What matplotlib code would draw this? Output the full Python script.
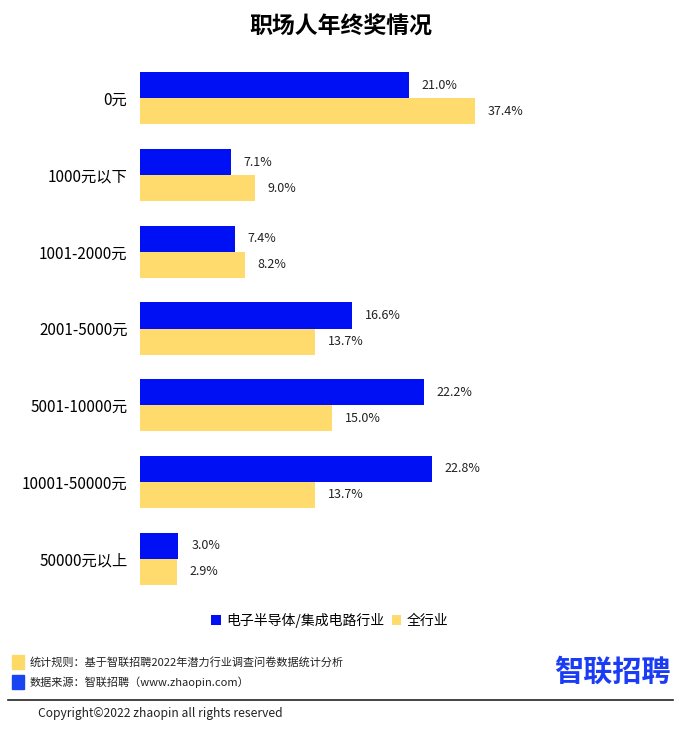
import matplotlib
matplotlib.use('Agg')
from matplotlib import pyplot as plt
from matplotlib.patches import Rectangle
import numpy as np

plt.rcParams['font.family'] = ['Noto Sans CJK SC', 'DejaVu Sans']

categories = ['0元', '1000元以下', '1001-2000元', '2001-5000元',
              '5001-10000元', '10001-50000元', '50000元以上']
semi_values = [21.0, 7.1, 7.4, 16.6, 22.2, 22.8, 3.0]
all_values = [37.4, 9.0, 8.2, 13.7, 15.0, 13.7, 2.9]
series_names = ['电子半导体/集成电路行业', '全行业']

BLUE = '#0010F5'
YELLOW = '#FFDB6E'
XMAX = 26.2


def main():
    fig = plt.figure(figsize=(6.81, 7.53), dpi=100)
    W, H = 681, 753
    ax = fig.add_axes([140 / W, 1 - 597 / H, (475 - 140) / W, (597 - 60) / H])

    y = np.arange(len(categories))
    h = 0.34
    ax.barh(y - h / 2, semi_values, height=h, color=BLUE, label=series_names[0])
    ax.barh(y + h / 2, all_values, height=h, color=YELLOW, label=series_names[1])
    ax.set_xlim(0, XMAX)
    ax.set_ylim(len(categories) - 0.5, -0.5)

    for i in range(len(categories)):
        for v, off in ((semi_values[i], -h / 2), (all_values[i], h / 2)):
            ax.text(min(v, XMAX) + 1.0, i + off, f'{v:.1f}%', va='center',
                    ha='left', fontsize=9, color='#222222', clip_on=False)

    ax.set_yticks(y)
    ax.set_yticklabels(categories, fontsize=11)
    ax.tick_params(axis='y', length=0, pad=9)
    ax.set_xticks([])
    for s in ax.spines.values():
        s.set_visible(False)

    fig.text(0.5, 1 - 27 / H, '职场人年终奖情况', ha='center', va='center',
             fontsize=16.5, fontweight='bold')

    fig.legend(loc='center', bbox_to_anchor=(330 / W, 1 - 620 / H), ncol=2,
               frameon=False, fontsize=10, handlelength=0.7, handleheight=0.7,
               handletextpad=0.4, columnspacing=0.5)

    # footer
    fig.patches.append(Rectangle((12 / W, 1 - 669 / H), 12 / W, 14 / H,
                                 transform=fig.transFigure, color='#FFD966'))
    fig.patches.append(Rectangle((12 / W, 1 - 689 / H), 12 / W, 14 / H,
                                 transform=fig.transFigure, color='#1A44F2'))
    fig.text(30 / W, 1 - 662 / H, '统计规则：基于智联招聘2022年潜力行业调查问卷数据统计分析',
             fontsize=8, va='center', color='#222222')
    fig.text(30 / W, 1 - 682 / H, '数据来源：智联招聘（www.zhaopin.com）',
             fontsize=8, va='center', color='#222222')
    fig.text(612 / W, 1 - 672 / H, '智联招聘', fontsize=21, fontweight='bold',
             ha='center', va='center', color='#1B3CF5')
    fig.add_artist(plt.Line2D([8 / W, 673 / W], [1 - 700 / H, 1 - 700 / H],
                              color='#222222', lw=1.2))
    fig.text(38 / W, 1 - 714 / H, 'Copyright©2022 zhaopin all rights reserved',
             fontsize=8.7, va='center', color='#222222')

    fig.savefig('out.png', dpi=100)


if __name__ == "__main__":
    main()
